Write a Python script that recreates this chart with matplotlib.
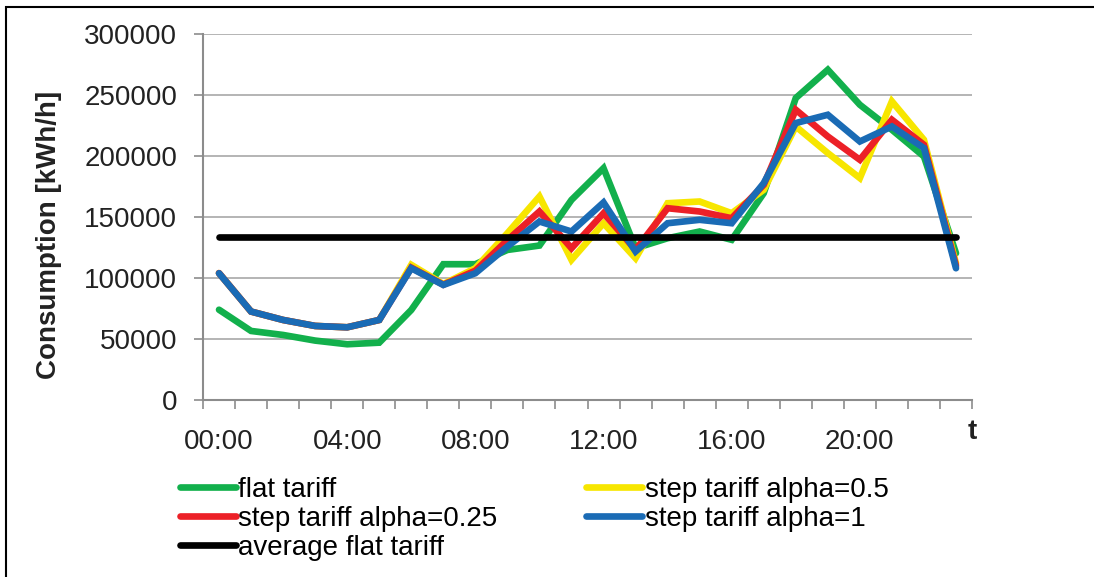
import matplotlib
matplotlib.use("Agg")
import matplotlib.pyplot as plt
from matplotlib.patches import Rectangle

plt.rcParams["font.family"] = ["Liberation Sans", "DejaVu Sans"]

hours = ["00:00", "01:00", "02:00", "03:00", "04:00", "05:00", "06:00", "07:00",
         "08:00", "09:00", "10:00", "11:00", "12:00", "13:00", "14:00", "15:00",
         "16:00", "17:00", "18:00", "19:00", "20:00", "21:00", "22:00", "23:00"]

flat_tariff = [74000, 56600, 53300, 48700, 45700, 47000, 73800, 111300,
               111300, 123000, 126600, 164000, 190000, 124400, 132600, 138100,
               131300, 169500, 247500, 270700, 242000, 221500, 199600, 120300]
step_alpha_05 = [104000, 72500, 65600, 60700, 59600, 65600, 110800, 95000,
                 108000, 136700, 166800, 114900, 144900, 116200, 161300, 162700,
                 153100, 172300, 224200, 202400, 181900, 244800, 213300, 112000]
step_alpha_025 = [104000, 72500, 65600, 60700, 59600, 65600, 108500, 94500,
                  106000, 131000, 154500, 124400, 153100, 123100, 157200, 154500,
                  149000, 176400, 237900, 216000, 196900, 229700, 209200, 110000]
step_alpha_1 = [103900, 72500, 65600, 60700, 59600, 65600, 108000, 94300,
                103900, 125800, 146300, 138100, 161900, 121700, 144900, 147700,
                144900, 177800, 227000, 233800, 211900, 224200, 206500, 108000]
avg_flat = [133700] * 24

y_ticks = [0, 50000, 100000, 150000, 200000, 250000, 300000]

W, H = 1094, 577
fig = plt.figure(figsize=(W / 100, H / 100), dpi=100)
ax = fig.add_axes([203 / W, 1 - 400 / H, 769 / W, 366 / H])

x = list(range(len(hours)))
series = [
    (flat_tariff, "#12B04C", "flat tariff"),
    (step_alpha_05, "#F7E600", "step tariff alpha=0.5"),
    (step_alpha_025, "#EC2027", "step tariff alpha=0.25"),
    (step_alpha_1, "#1A6BB5", "step tariff alpha=1"),
    (avg_flat, "#000000", "average flat tariff"),
]
lines = {}
for vals, color, label in series:
    (ln,) = ax.plot(x, vals, color=color, lw=4.8, solid_capstyle="round",
                    solid_joinstyle="miter", label=label)
    lines[label] = ln

gray = "#8C8C8C"
ax.set_xlim(-0.5, 23.5)
ax.set_ylim(0, 300000)
ax.set_yticks(y_ticks)
ax.set_yticklabels([str(v) for v in y_ticks])
ax.yaxis.grid(True, color="#A8A8A8", lw=1.2)
ax.set_axisbelow(True)
for s in ["top", "right"]:
    ax.spines[s].set_visible(False)
for s in ["left", "bottom"]:
    ax.spines[s].set_color(gray)
    ax.spines[s].set_linewidth(1.5)

ax.set_xticks(x[::4])
ax.set_xticklabels(hours[::4])
ax.set_xticks([i - 0.5 for i in range(25)], minor=True)
ax.tick_params(axis="x", which="major", length=0, pad=21, labelsize=20, labelcolor="#222222")
ax.tick_params(axis="x", which="minor", length=6.5, width=1.2, color=gray)
ax.tick_params(axis="y", length=6.5, width=1.2, color=gray, pad=12,
               labelsize=20, labelcolor="#222222")

fig.text(49 / W, 1 - 235 / H, "Consumption [kWh/h]", rotation=90, ha="center",
         va="center", fontsize=20, fontweight="bold", color="#222222")
fig.text(972 / W, 1 - 432 / H, "t", ha="center", va="center", fontsize=20,
         fontweight="bold", color="#222222")

# Excel fills the legend row by row, matplotlib column by column
order = ["flat tariff", "step tariff alpha=0.25", "average flat tariff",
         "step tariff alpha=0.5", "step tariff alpha=1"]
fig.legend([lines[k] for k in order], order, loc="upper left",
           bbox_to_anchor=(180 / W, 1 - 477 / H), ncol=2, frameon=False,
           fontsize=20, handlelength=2.0, handletextpad=0.1, labelspacing=0.1,
           columnspacing=3.2, borderpad=0, borderaxespad=0)

fig.patches.append(Rectangle((6 / W, -0.1), 1.2, 1.1 - 7 / H, transform=fig.transFigure,
                             fill=False, edgecolor="black", lw=1.5))

fig.savefig("out.png", dpi=100)
